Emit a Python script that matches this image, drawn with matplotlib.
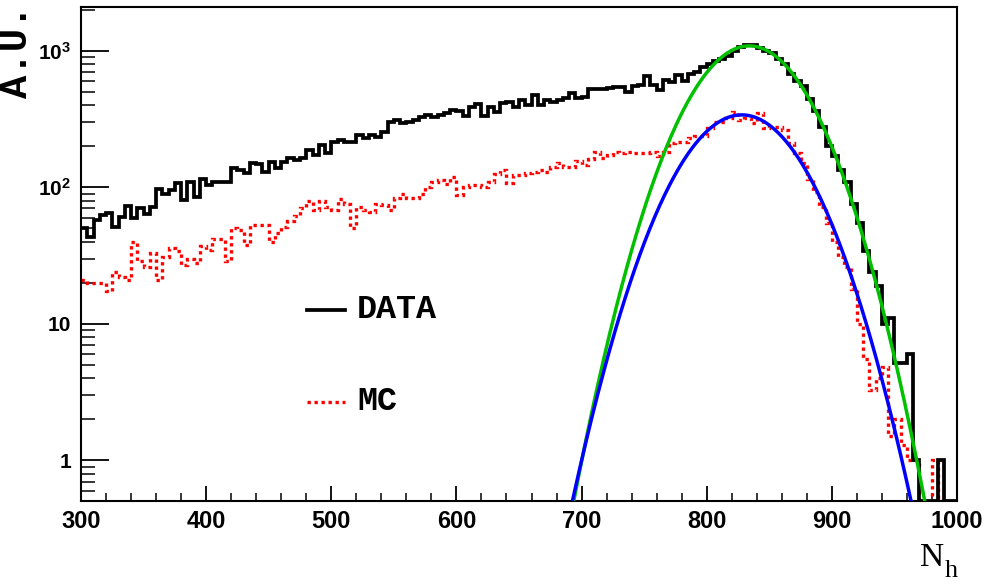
import numpy as np
import matplotlib
matplotlib.use("Agg")
import matplotlib.pyplot as plt
from matplotlib.ticker import FixedLocator, NullFormatter, FixedFormatter, LogLocator, MultipleLocator

# ---------------- data ----------------
x_low, x_high, bin_width = 300, 1000, 5
edges = np.arange(x_low, x_high + bin_width, bin_width)

data_counts = [
    50, 43, 58, 63, 65, 51, 61, 73, 60, 71,
    64, 72, 98, 90, 95, 107, 81, 110, 85, 116,
    104, 110, 110, 110, 138, 134, 127, 150, 148, 130,
    154, 138, 154, 163, 158, 163, 187, 172, 204, 177,
    216, 222, 216, 216, 241, 228, 241, 235, 255, 302,
    311, 294, 302, 311, 329, 338, 325, 340, 350, 368,
    360, 330, 385, 405, 330, 390, 355, 412, 424, 390,
    435, 400, 474, 400, 435, 424, 435, 449, 488, 449,
    455, 522, 522, 525, 530, 540, 545, 495, 555, 565,
    650, 560, 515, 610, 590, 665, 600, 680, 700, 760,
    800, 845, 870, 915, 1000, 1060, 1100, 1100, 1045, 990,
    955, 870, 805, 670, 600, 550, 440, 360, 275, 200,
    170, 135, 110, 75, 55, 34, 24, 19, 10, 11,
    5.2, 5.2, 6, 1, 0, 0, 0, 1, 0, 0,
]

mc_counts = [
    21, 20, 20, 20, 17.5, 24, 22, 21, 40, 29,
    26, 33, 21, 31, 36, 34, 27, 30, 28, 37,
    35, 42, 42, 29, 50, 49, 38, 53, 53, 53,
    40, 46, 51, 57, 62, 70, 80, 68, 80, 72,
    68, 82, 75, 50, 72, 68, 66, 76, 74, 68,
    83, 90, 84, 83, 90, 100, 110, 113, 105, 118,
    88, 100, 104, 104, 101, 110, 125, 134, 108, 123,
    123, 127, 130, 134, 130, 140, 150, 140, 142, 155,
    145, 160, 180, 165, 172, 182, 177, 180, 177, 177,
    177, 182, 170, 180, 210, 215, 215, 228, 237, 237,
    270, 300, 302, 320, 355, 311, 320, 294, 348, 270,
    278, 278, 262, 212, 177, 150, 115, 92, 72, 54.5,
    40, 31, 26, 18, 10, 5.5, 3.3, 4.0, 4.8, 1.5,
    2.0, 1.3, 1.0, 1.0, 0, 0, 1.0, 0, 0, 0,
]

# Gaussian fit parameters (amplitude, mean, sigma)
fit_data_params = (1085.0, 834.0, 35.8)   # green
fit_mc_params = (339.0, 828.0, 37.5)      # blue
fit_range = (688.0, 985.0)

x_ticks = [300, 400, 500, 600, 700, 800, 900, 1000]
y_ticks = [1, 10, 100, 1000]
y_tick_labels = ["1", "10", r"$\mathregular{10^{2}}$", r"$\mathregular{10^{3}}$"]

legend_labels = ["DATA", "MC"]

# ---------------- style ----------------
plt.rcParams['mathtext.fontset'] = 'custom'
plt.rcParams['mathtext.rm'] = 'Liberation Sans:bold'
plt.rcParams['mathtext.it'] = 'Liberation Sans:italic'
plt.rcParams['mathtext.bf'] = 'Liberation Sans:bold'

W, H = 1001, 585
fig = plt.figure(figsize=(W / 100, H / 100), dpi=100)
ax_l, ax_r, ax_t, ax_b = 81, 957, 7, 501
ax = fig.add_axes([ax_l / W, 1 - ax_b / H, (ax_r - ax_l) / W, (ax_b - ax_t) / H])

ymin, ymax = 0.505, 2090
ax.set_yscale('log')
ax.set_xlim(x_low, x_high)
ax.set_ylim(ymin, ymax)

data_arr = np.maximum(np.array(data_counts, dtype=float), ymin)
mc_arr = np.maximum(np.array(mc_counts, dtype=float), ymin)

ax.stairs(data_arr, edges, baseline=None, color='black', lw=2.7, zorder=3)
ax.stairs(mc_arr, edges, baseline=None, color='#ff0000', lw=2.4,
          linestyle=(0, (1, 1.1)), zorder=2)

xf = np.linspace(fit_range[0], fit_range[1], 300)
def gauss(x, p):
    a, m, s = p
    return a * np.exp(-0.5 * ((x - m) / s) ** 2)

ax.plot(xf, gauss(xf, fit_data_params), color='#00c000', lw=2.5, zorder=4)
ax.plot(xf, gauss(xf, fit_mc_params), color='#0000ff', lw=2.5, zorder=5)

# axes / ticks
for sp in ax.spines.values():
    sp.set_linewidth(1.5)

ax.xaxis.set_major_locator(FixedLocator(x_ticks))
ax.xaxis.set_minor_locator(MultipleLocator(20))
ax.yaxis.set_major_locator(FixedLocator(y_ticks))
ax.yaxis.set_major_formatter(FixedFormatter(y_tick_labels))
ax.yaxis.set_minor_locator(LogLocator(base=10, subs=np.arange(2, 10), numticks=20))
ax.yaxis.set_minor_formatter(NullFormatter())

ax.tick_params(axis='x', which='major', direction='in', length=11, width=1.3,
               pad=6.5, labelsize=17, top=False)
ax.tick_params(axis='x', which='minor', direction='in', length=5.5, width=1.1, top=False)
ax.tick_params(axis='y', which='major', direction='in', length=20, width=1.3,
               pad=7, labelsize=15, right=False)
ax.tick_params(axis='y', which='minor', direction='in', length=10, width=1.1, right=False)

for lab in ax.get_xticklabels():
    lab.set_fontfamily('Liberation Sans')
    lab.set_fontweight('bold')
for lab in ax.get_yticklabels():
    lab.set_fontfamily('Liberation Sans')
    lab.set_fontweight('bold')

# axis titles
fig.text(17 / W, 1 - 4 / H, "A.U.", rotation=90, ha='center', va='top',
         fontfamily='Liberation Mono', fontweight='bold', fontsize=28)
fig.text(944 / W, 1 - 566 / H, "N", ha='right', va='baseline',
         fontfamily='Liberation Serif', fontsize=24)
fig.text(945 / W, 1 - 577 / H, "h", ha='left', va='baseline',
         fontfamily='Liberation Serif', fontsize=19)

# legend (manual, ROOT-like)
def ax_frac(px, py):
    return ((px - ax_l) / (ax_r - ax_l), (ax_b - py) / (ax_b - ax_t))

x0, y0 = ax_frac(307, 310)
x1, _ = ax_frac(345, 310)
xt, _ = ax_frac(357, 310)
_, y1 = ax_frac(307, 402)
ax.plot([x0, x1], [y0, y0], transform=ax.transAxes, color='black', lw=2.7, clip_on=False)
ax.plot([x0, x1], [y1, y1], transform=ax.transAxes, color='#ff0000', lw=2.4,
        linestyle=(0, (1, 1.1)), clip_on=False)
ax.text(xt, y0, legend_labels[0], transform=ax.transAxes, ha='left', va='center',
        fontfamily='Liberation Mono', fontweight='bold', fontsize=24)
ax.text(xt, y1, legend_labels[1], transform=ax.transAxes, ha='left', va='center',
        fontfamily='Liberation Mono', fontweight='bold', fontsize=24)

fig.savefig("out.png", dpi=100)
